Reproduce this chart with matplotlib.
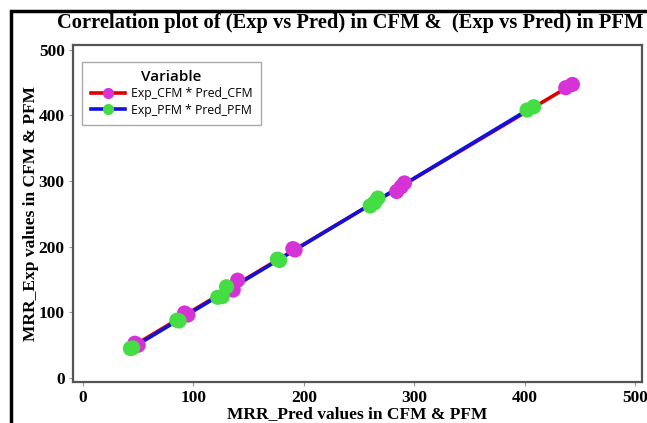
import numpy as np
import matplotlib
matplotlib.use("Agg")
import matplotlib.pyplot as plt
from matplotlib.patches import Rectangle
from matplotlib.lines import Line2D

# values
pred_cfm = [47, 50, 92, 95, 136, 140, 190, 192, 284, 288, 291, 437, 443]
exp_cfm = [53, 50, 99, 96, 134, 149, 197, 195, 284, 291, 297, 442, 447]
pred_pfm = [43, 45, 85, 87, 122, 126, 130, 176, 178, 260, 264, 267, 402, 408]
exp_pfm = [45, 46, 88, 87, 123, 124, 139, 181, 179, 262, 267, 274, 408, 413]

title = "Correlation plot of (Exp vs Pred) in CFM &  (Exp vs Pred) in PFM"
xlab = "MRR_Pred values in CFM & PFM"
ylab = "MRR_Exp values in CFM & PFM"
labels = ["Exp_CFM * Pred_CFM", "Exp_PFM * Pred_PFM"]
ticks = [0, 100, 200, 300, 400, 500]

mag = "#d633d6"
grn = "#44dd44"
red = "#dd0000"
blu = "#1111dd"

serif = "Liberation Serif"

fig = plt.figure(figsize=(6.47, 4.23), dpi=100)
# outer frame (only top and left edges visible)
fig.patches.append(Rectangle((11 / 647, -0.1), 1.2, 1 - 11 / 423 + 0.1,
                             transform=fig.transFigure, fill=False,
                             edgecolor="black", linewidth=2.5))

ax = fig.add_axes([73 / 647, 1 - 382 / 423, (642 - 73) / 647, (382 - 45) / 423])

def fitline(x, y, c):
    x = np.array(x, float)
    y = np.array(y, float)
    b, a = np.polyfit(x, y, 1)
    xs = np.array([x.min(), x.max()])
    ax.plot(xs, a + b * xs, color=c, linewidth=2.6, zorder=2)

fitline(pred_cfm, exp_cfm, red)
fitline(pred_pfm, exp_pfm, blu)
ax.scatter(pred_cfm, exp_cfm, s=120, color=mag, edgecolors="none", zorder=3)
ax.scatter(pred_pfm, exp_pfm, s=120, color=grn, edgecolors="none", zorder=4)

ax.set_xlim(-9, 506)
ax.set_ylim(-6, 507)
ax.set_xticks(ticks)
ax.set_yticks(ticks)
for lab in ax.get_xticklabels() + ax.get_yticklabels():
    lab.set_fontfamily(serif)
    lab.set_fontweight("bold")
    lab.set_fontsize(12.5)
ax.tick_params(length=3, width=0.8, color="#999999", pad=3)
for s in ["top", "right", "left", "bottom"]:
    ax.spines[s].set_color("#555555")
    ax.spines[s].set_linewidth(1.6)

ax.set_xlabel(xlab, fontfamily=serif, fontweight="bold", fontsize=12.5)
ax.set_ylabel(ylab, fontfamily=serif, fontweight="bold", fontsize=12.5)
ax.xaxis.set_label_coords(0.5, -0.072)
ax.yaxis.set_label_coords(-0.06, 0.5)
fig.text(0.541, 0.946, title, ha="center", va="center", fontfamily=serif,
         fontweight="bold", fontsize=14.8)

handles = [Line2D([], [], color=red, lw=2.6, marker="o", ms=7, mfc=mag, mec=mag),
           Line2D([], [], color=blu, lw=2.6, marker="o", ms=7, mfc=grn, mec=grn)]
leg = ax.legend(handles, labels, title="Variable", loc="upper left",
                bbox_to_anchor=(0.0158, 0.95), borderaxespad=0,
                fancybox=False, framealpha=1,
                edgecolor="#aaaaaa", prop={"family": "Open Sans", "size": 8.8},
                handlelength=2.8, handletextpad=0.5, borderpad=0.7,
                labelspacing=0.25)
leg.get_title().set_fontfamily("Open Sans")
leg.get_title().set_fontsize(11)
leg.get_title().set_fontweight("semibold")
leg.get_frame().set_linewidth(1.0)

fig.savefig("out.png", dpi=100)
